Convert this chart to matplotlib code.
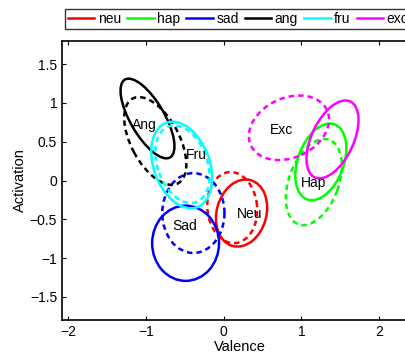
import matplotlib
matplotlib.use("Agg")
import matplotlib.pyplot as plt
from matplotlib.patches import Ellipse
from matplotlib.lines import Line2D

plt.rcParams['font.family'] = ['Liberation Sans', 'DejaVu Sans']

# emotion classes
labels = ['neu', 'hap', 'sad', 'ang', 'fru', 'exc']
colors = ['#ff0000', '#00ff00', '#0000ff', '#000000', '#00ffff', '#ff00ff']
names = ['Neu', 'Hap', 'Sad', 'Ang', 'Fru', 'Exc']

# solid ellipses: centre x, centre y, width, height, angle (deg)
solid_cx = [0.23, 1.25, -0.49, -0.98, -0.54, 1.40]
solid_cy = [-0.42, 0.24, -0.81, 0.80, 0.20, 0.53]
solid_w = [0.88, 1.03, 0.97, 1.16, 1.16, 1.08]
solid_h = [0.64, 0.59, 0.86, 0.44, 0.72, 0.54]
solid_ang = [75, 70, 90, -60, -70, 65]

# dashed ellipses
dash_cx = [0.11, 1.16, -0.39, -0.88, -0.53, 0.84]
dash_cy = [-0.35, -0.02, -0.42, 0.51, 0.21, 0.68]
dash_w = [0.92, 1.16, 1.03, 1.24, 1.04, 1.08]
dash_h = [0.64, 0.64, 0.80, 0.62, 0.64, 0.77]
dash_ang = [95, 70, 90, -62, -70, 25]

# text label positions
text_x = [0.17, 0.99, -0.66, -1.18, -0.48, 0.60]
text_y = [-0.43, -0.03, -0.59, 0.72, 0.33, 0.65]

fig = plt.figure(figsize=(4.06, 3.53), dpi=100)
ax = fig.add_axes([62 / 406, 33 / 353, 356 / 406, 279 / 353])

for i in range(len(labels)):
    ax.text(text_x[i], text_y[i], names[i], ha='left', va='center', fontsize=10)

for i in range(len(labels)):
    ax.add_patch(Ellipse((dash_cx[i], dash_cy[i]), dash_w[i], dash_h[i], angle=dash_ang[i],
                         fill=False, edgecolor=colors[i], lw=1.8, linestyle=(0, (2.2, 1.6))))
    ax.add_patch(Ellipse((solid_cx[i], solid_cy[i]), solid_w[i], solid_h[i], angle=solid_ang[i],
                         fill=False, edgecolor=colors[i], lw=1.8))

ax.set_xlim(-2.08, 2.5)
ax.set_ylim(-1.8, 1.8)
ax.set_xticks([-2, -1, 0, 1, 2])
ax.set_xticklabels(['\u22122', '\u22121', '0', '1', '2'])
ax.set_yticks([-1.5, -1, -0.5, 0, 0.5, 1, 1.5])
ax.set_yticklabels(['\u22121.5', '\u22121', '\u22120.5', '0', '0.5', '1', '1.5'])
ax.tick_params(direction='in', length=3, top=True, right=True, labelsize=10, width=0.8)
for s in ax.spines.values():
    s.set_linewidth(1.2)
ax.set_xlabel('Valence', fontsize=10.5, labelpad=1)
ax.set_ylabel('Activation', fontsize=10.5, labelpad=2)

handles = [Line2D([], [], color=c, lw=1.8) for c in colors]
leg = fig.legend(handles, labels, loc='upper left', bbox_to_anchor=(65 / 406, 1 - 9 / 353),
                 ncol=6, fontsize=10, frameon=True, fancybox=False, handlelength=1.9,
                 handletextpad=0.25, columnspacing=0.45, borderpad=0.2, borderaxespad=0)
leg.get_frame().set_edgecolor('black')
leg.get_frame().set_linewidth(1.0)

fig.savefig('out.png', dpi=100)
